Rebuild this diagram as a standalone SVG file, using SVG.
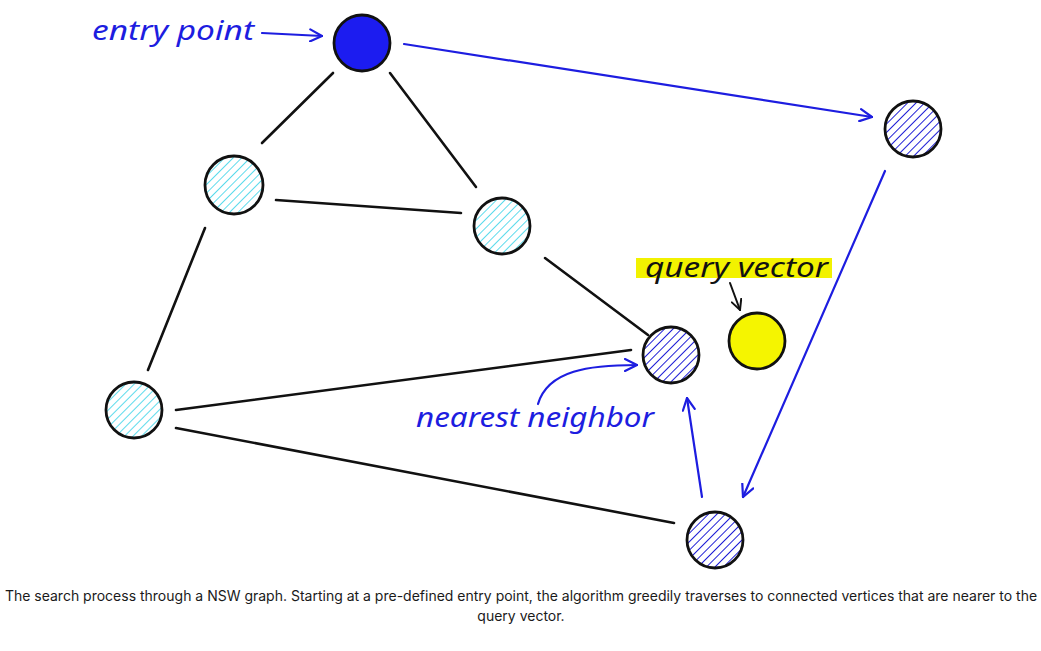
<svg xmlns="http://www.w3.org/2000/svg" width="1041" height="651" viewBox="0 0 1041 651">
<style>
.node{stroke:#111;stroke-width:2.8}
.edge{stroke:#111;stroke-width:2.6;fill:none;stroke-linecap:round}
.arr{stroke:#1d1de0;stroke-width:2.2;fill:none;stroke-linecap:round;stroke-linejoin:round}
.hand{font-family:"Comic Sans MS","Noto Sans","DejaVu Sans",sans-serif;font-style:italic;font-size:28px}
.cap{font-family:Inter,"Liberation Sans",sans-serif;font-size:14px;fill:#1a1a1a;text-anchor:middle}
</style>
<defs>
<pattern id="hc" patternUnits="userSpaceOnUse" width="6" height="6" patternTransform="rotate(45)">
<line x1="0" y1="0" x2="0" y2="6" stroke="#5ddbec" stroke-width="2"/>
</pattern>
<pattern id="hb" patternUnits="userSpaceOnUse" width="6" height="6" patternTransform="rotate(45)">
<line x1="0" y1="0" x2="0" y2="6" stroke="#1f1fd6" stroke-width="2"/>
</pattern>
<marker id="ah" viewBox="0 0 14 14" refX="13" refY="7" markerWidth="14" markerHeight="14" markerUnits="userSpaceOnUse" orient="auto">
<path d="M1,1 L13,7 L1,13" fill="none" stroke="#1d1de0" stroke-width="2.2" stroke-linecap="round"/>
</marker>
<marker id="ahk" viewBox="0 0 12 12" refX="11" refY="6" markerWidth="12" markerHeight="12" markerUnits="userSpaceOnUse" orient="auto">
<path d="M1,1 L11,6 L1,11" fill="none" stroke="#111" stroke-width="2" stroke-linecap="round"/>
</marker>
</defs>
<rect width="1041" height="651" fill="#fff"/>
<g id="connectors">
<line class="edge" x1="333" y1="73" x2="262" y2="143"/>
<line class="edge" x1="390" y1="73" x2="476" y2="187"/>
<line class="edge" x1="276" y1="200" x2="461" y2="213"/>
<line class="edge" x1="205" y1="228" x2="148" y2="370"/>
<line class="edge" x1="545" y1="258" x2="648" y2="335"/>
<line class="edge" x1="176" y1="410" x2="631" y2="350"/>
<line class="edge" x1="176" y1="428" x2="674" y2="523"/>
<line class="arr" x1="262" y1="33" x2="322" y2="36" marker-end="url(#ah)"/>
<line class="arr" x1="404" y1="44" x2="872" y2="117" marker-end="url(#ah)"/>
<line class="arr" x1="885" y1="171" x2="743" y2="497" marker-end="url(#ah)"/>
<line class="arr" x1="702" y1="497" x2="687" y2="398" stroke-width="3" marker-end="url(#ah)"/>
<path class="arr" d="M538,404 C548,370 590,365 637,365" marker-end="url(#ah)"/>
<line x1="730" y1="283" x2="740" y2="310" stroke="#111" stroke-width="2" stroke-linecap="round" marker-end="url(#ahk)"/>
</g>
<g id="n-entry"><circle class="node" cx="362" cy="43" r="28" fill="#1c1cf0"/></g>
<g id="n-topright"><circle cx="913" cy="129" r="28" fill="url(#hb)"/><circle class="node" cx="913" cy="129" r="28" fill="none"/></g>
<g id="n-leftupper"><circle cx="234" cy="185" r="29" fill="url(#hc)"/><circle class="node" cx="234" cy="185" r="29" fill="none"/></g>
<g id="n-middle"><circle cx="502" cy="226" r="28" fill="url(#hc)"/><circle class="node" cx="502" cy="226" r="28" fill="none"/></g>
<g id="n-nearest"><circle cx="671" cy="355" r="28" fill="url(#hb)"/><circle class="node" cx="671" cy="355" r="28" fill="none"/></g>
<g id="n-query"><circle class="node" cx="757" cy="341" r="28" fill="#f5f500"/></g>
<g id="n-leftlower"><circle cx="134" cy="410" r="28" fill="url(#hc)"/><circle class="node" cx="134" cy="410" r="28" fill="none"/></g>
<g id="n-bottom"><circle cx="715" cy="540" r="28" fill="url(#hb)"/><circle class="node" cx="715" cy="540" r="28" fill="none"/></g>
<g id="labels">
<text class="hand" x="92" y="40" fill="#1d1de0" textLength="162" lengthAdjust="spacingAndGlyphs">entry point</text>
<rect x="636" y="258" width="196" height="20" fill="#f2f200"/>
<text class="hand" x="645" y="277" fill="#111" textLength="183" lengthAdjust="spacingAndGlyphs">query vector</text>
<text class="hand" x="416" y="427" fill="#1d1de0" textLength="238" lengthAdjust="spacingAndGlyphs">nearest neighbor</text>
</g>
<g id="caption">
<text class="cap" x="521" y="601">The search process through a NSW graph. Starting at a pre-defined entry point, the algorithm greedily traverses to connected vertices that are nearer to the</text>
<text class="cap" x="521" y="621">query vector.</text>
</g>
</svg>
